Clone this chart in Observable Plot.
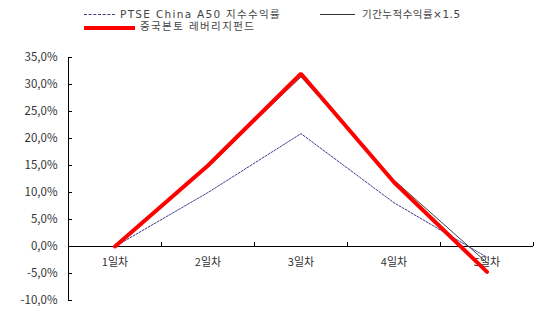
<!DOCTYPE html>
<html><head><meta charset="utf-8">
<script src="https://cdn.jsdelivr.net/npm/d3@7"></script>
<script src="https://cdn.jsdelivr.net/npm/@observablehq/plot@0.6"></script>
<style>
body{margin:0;background:#fff;font-family:"DejaVu Sans","Noto Sans CJK KR",sans-serif;}
#legend{position:relative;width:536px;height:40px;font-size:10.5px;color:#444;font-family:"DejaVu Sans","Noto Sans CJK KR",sans-serif;}
#legend .it{position:absolute;white-space:nowrap;line-height:12px;}
#legend .ln{position:absolute;}
</style></head>
<body>
<div id="legend"></div>
<div id="chart"></div>
<script>
const days = ["1일차","2일차","3일차","4일차","5일차"];
const ftse = [0, 10.0, 20.9, 8.1, -2.0];
const cum15 = [0, 15.0, 31.4, 12.3, -3.0];
const fund = [0, 15.0, 32.0, 11.9, -4.7];
const yTicks = [-10,-5,0,5,10,15,20,25,30,35];
const seriesNames = ["PTSE China A50 지수수익률","기간누적수익률×1.5","중국본토 레버리지펀드"];

const rows = [];
days.forEach((d,i)=>{
  rows.push({s:seriesNames[0], i:i+1, v:ftse[i]});
  rows.push({s:seriesNames[1], i:i+1, v:cum15[i]});
  rows.push({s:seriesNames[2], i:i+1, v:fund[i]});
});
const bounds = days.map((d,i)=>i+1.5);
const fmt = v => (v<0?"-":"")+Math.abs(v).toFixed(1).replace(".",",")+"%";

// legend
const leg = document.getElementById("legend");
const items = [
  {name:seriesNames[0], x1:84, x2:115, y:14, css:"border-top:1px dashed #3a3a8c;", tx:120, ls:1.3},
  {name:seriesNames[1], x1:320, x2:355, y:14, css:"border-top:1px solid #333;", tx:362, ls:0.5},
  {name:seriesNames[2], x1:84, x2:135, y:26, css:"border-top:4px solid #ff0000;", tx:140, ls:1.4}
];
items.forEach(it=>{
  const l=document.createElement("div");l.className="ln";
  l.style.cssText=`left:${it.x1}px;top:${it.y}px;width:${it.x2-it.x1}px;height:0;`+it.css;
  leg.appendChild(l);
  const t=document.createElement("div");t.className="it";
  t.style.cssText=`left:${it.tx}px;top:${it.y-6}px;letter-spacing:${it.ls}px;`;
  t.textContent=it.name;leg.appendChild(t);
});

const chart = Plot.plot({
  width:536, height:271,
  marginLeft:68, marginRight:3, marginTop:17, marginBottom:11,
  style:{fontFamily:'"Noto Sans CJK KR","DejaVu Sans",sans-serif', fontSize:"11px", color:"#333"},
  x:{domain:[0.5,5.5], axis:null},
  y:{domain:[-10,35], axis:null},
  marks:[
    Plot.axisY({ticks:yTicks, tickSize:0, tickPadding:11, tickFormat:fmt, fontSize:11.5, label:null}),
    Plot.ruleX([0.5], {y1:-10, y2:35, stroke:"#000", strokeWidth:1}),
    Plot.ruleY(yTicks, {y:d=>d, x1:0.5, x2:0.5, insetRight:-4, stroke:"#000"}),
    Plot.ruleY([0], {x1:0.5, x2:5.5, stroke:"#000"}),
    Plot.ruleX(bounds, {x:d=>d, y1:0, y2:0, insetTop:-4, stroke:"#000"}),
    Plot.text(days, {x:(d,i)=>i+1, y:0, dy:16, text:d=>d, fill:"#333"}),
    Plot.line(rows.filter(r=>r.s===seriesNames[0]), {x:"i", y:"v", stroke:"#3a3a8c", strokeWidth:1, strokeDasharray:"2,1.5"}),
    Plot.line(rows.filter(r=>r.s===seriesNames[1]), {x:"i", y:"v", stroke:"#444", strokeWidth:1}),
    Plot.line(rows.filter(r=>r.s===seriesNames[2]), {x:"i", y:"v", stroke:"#ff0000", strokeWidth:4, strokeLinejoin:"miter"})
  ]
});
document.getElementById("chart").appendChild(chart);
</script>
</body></html>
